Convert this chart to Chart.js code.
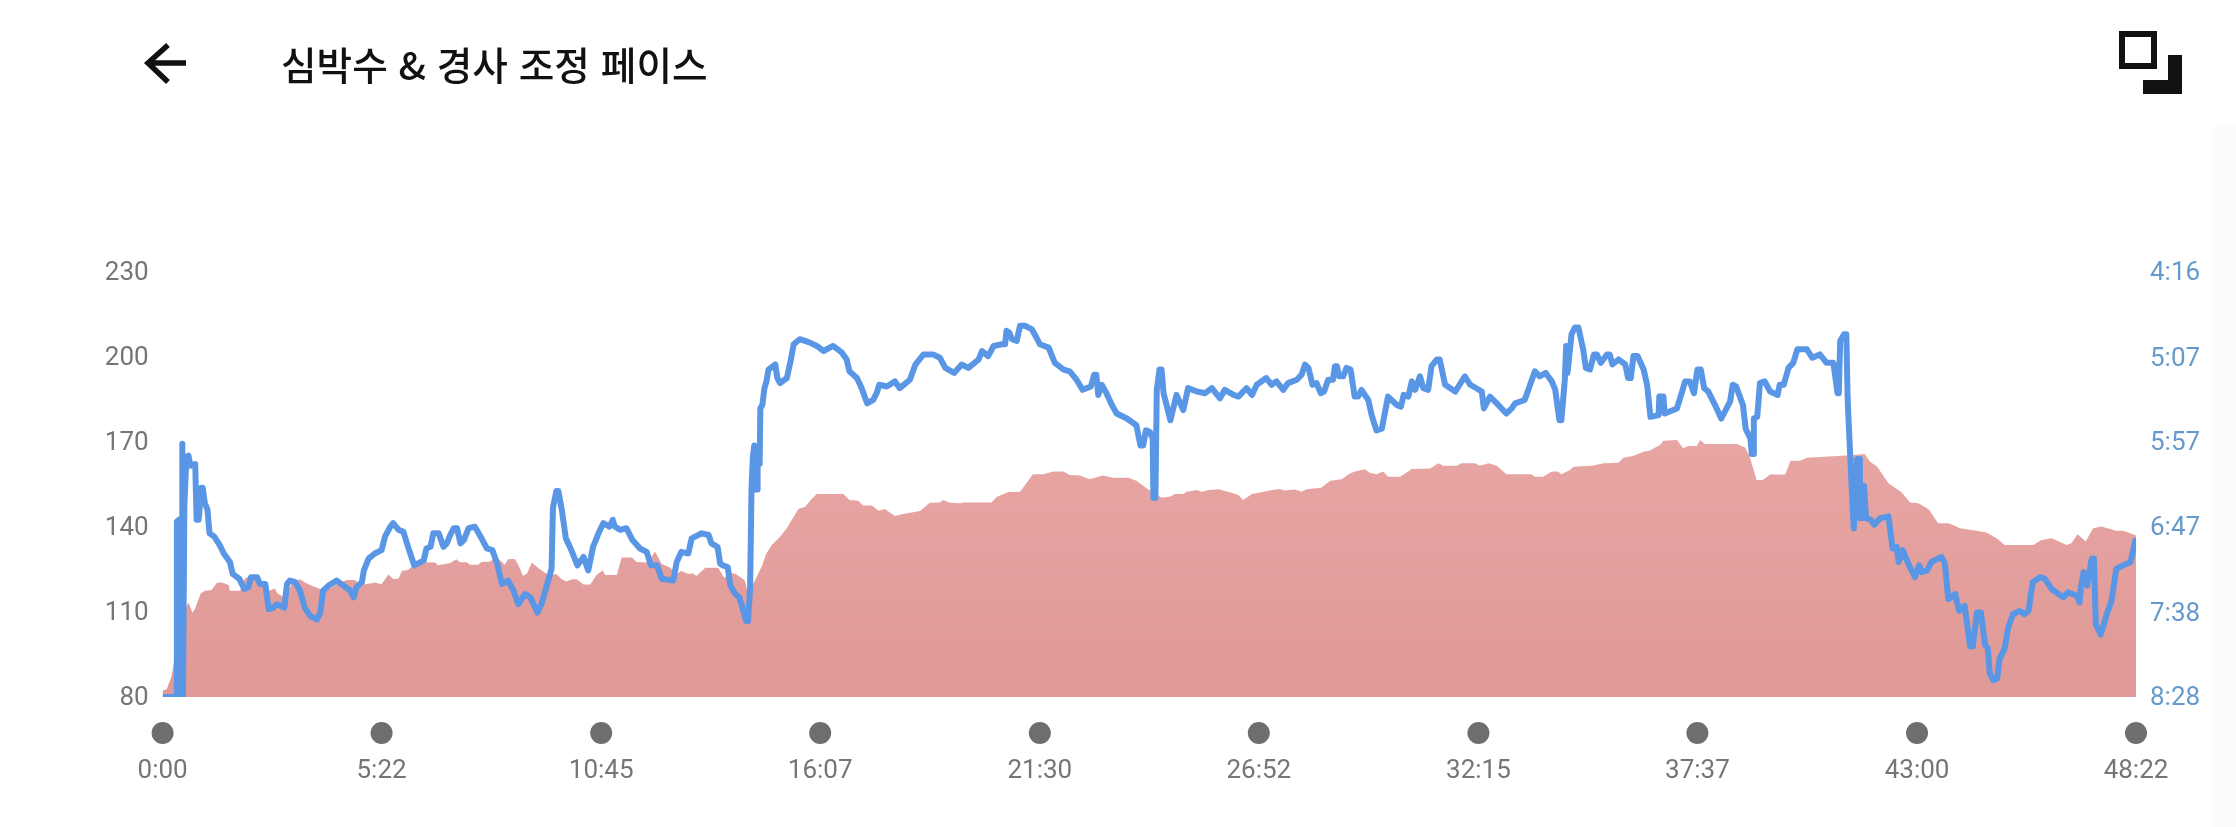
<!DOCTYPE html>
<html lang="ko">
<head>
<meta charset="utf-8">
<title>심박수 & 경사 조정 페이스</title>
<script src="https://cdn.jsdelivr.net/npm/chart.js@4"></script>
<style>
    html, body { margin: 0; padding: 0; background: #fff; width: 2236px; height: 827px; overflow: hidden; }
    #andamento { position: absolute; left: 0; top: 0; }
    #title {
        position: absolute; left: 281px; top: 36px; line-height: 54px; white-space: nowrap;
        font-family: "Noto Sans CJK KR", sans-serif; font-size: 38.7px; font-weight: 500; color: #111;
    }
    #arrow, #icon { position: absolute; left: 0; top: 0; }
    #strip { position: absolute; left: 2213px; top: 126px; width: 23px; height: 701px; background: #fcfcfc; }
</style>
</head>
<body>
<div id="strip"></div>
<canvas id="andamento" width="2236" height="827"></canvas>
<svg id="arrow" width="200" height="100">
    <path d="M186 63H148M168 45L148 63L168 82" fill="none" stroke="#111" stroke-width="5.5"/>
</svg>
<svg id="icon" width="2236" height="100">
    <path d="M2119 31h38v38h-38zM2125 37v26h26v-26z" fill="#111" fill-rule="evenodd"/>
    <path d="M2168 55h14v39h-39v-14h25z" fill="#111"/>
</svg>
<div id="title">심박수 &amp; 경사 조정 페이스</div>
<script>
// x axis, seconds
const timeTicks = [0, 322, 645, 967, 1290, 1612, 1935, 2257, 2580, 2902];
const timeLabels = ['0:00', '5:22', '10:45', '16:07', '21:30', '26:52', '32:15', '37:37', '43:00', '48:22'];

const paceTicks = [256, 307, 357, 407, 458, 508];
const paceLabels = ['4:16', '5:07', '5:57', '6:47', '7:38', '8:28'];

// pace in sec/km
const paceTimes = [
    0,17,21,21,24,25,29,29,30,32,
    35,38,41,48,50,53,57,59,62,66,
    69,76,84,90,99,103,113,120,126,130,
    139,143,151,156,163,168,179,183,187,195,
    202,209,217,227,232,236,244,256,266,276,
    281,285,293,296,303,312,322,327,335,339,
    347,354,361,370,384,388,394,398,406,413,
    418,423,428,433,438,443,450,459,469,477,
    485,492,499,508,516,523,533,541,551,557,
    565,572,574,579,582,587,593,600,610,619,
    626,633,641,648,657,662,665,673,682,691,
    702,712,718,727,734,751,756,763,773,778,
    793,803,807,816,820,824,831,835,842,848,
    852,858,861,864,866,868,870,872,875,875,
    878,879,882,885,888,891,901,904,908,918,
    924,928,937,952,962,972,986,999,1006,1010,
    1021,1028,1036,1045,1050,1054,1065,1077,1084,1099,
    1107,1119,1133,1143,1151,1164,1175,1185,1200,1205,
    1214,1222,1234,1239,1241,1245,1249,1256,1261,1268,
    1278,1285,1290,1303,1312,1325,1334,1344,1353,1365,
    1370,1373,1376,1381,1388,1396,1403,1418,1432,1438,
    1442,1446,1452,1456,1457,1460,1462,1466,1469,1472,
    1482,1491,1501,1508,1521,1533,1543,1555,1562,1575,
    1582,1594,1602,1609,1623,1631,1638,1648,1655,1668,
    1675,1680,1685,1691,1697,1703,1708,1714,1721,1724,
    1727,1730,1736,1741,1747,1753,1758,1763,1773,1778,
    1785,1793,1802,1815,1821,1825,1832,1837,1842,1849,
    1854,1861,1866,1874,1878,1886,1901,1915,1923,1940,
    1943,1952,1962,1976,1984,1989,2003,2011,2018,2025,
    2034,2043,2048,2054,2057,2062,2064,2066,2072,2077,
    2082,2089,2093,2099,2105,2109,2115,2124,2128,2132,
    2141,2151,2155,2159,2163,2169,2178,2183,2188,2200,
    2201,2207,2209,2227,2239,2246,2252,2257,2262,2267,
    2273,2283,2292,2305,2309,2314,2324,2328,2335,2337,
    2339,2340,2345,2349,2356,2364,2375,2378,2384,2391,
    2398,2404,2418,2426,2437,2447,2457,2463,2465,2467,
    2473,2476,2478,2484,2487,2492,2495,2496,2500,2502,
    2505,2512,2517,2526,2538,2544,2550,2553,2559,2567,
    2577,2583,2587,2595,2601,2616,2621,2626,2636,2642,
    2650,2658,2662,2668,2674,2680,2684,2687,2692,2698,
    2701,2709,2714,2721,2731,2738,2744,2750,2761,2768,
    2778,2795,2802,2815,2819,2821,2825,2830,2837,2840,
    2843,2850,2859,2866,2873,2883,2894,2900,2902
];
const paceValues = [
    508,508,508,404,403,508,508,358,508,395,
    366,365,371,370,403,403,384,384,393,397,
    411,413,418,423,428,435,438,444,443,437,
    437,441,441,456,455,453,455,441,439,440,
    445,455,460,462,458,445,442,439,442,445,
    449,443,440,433,426,423,421,413,407,405,
    409,410,419,430,427,420,419,411,411,419,
    417,412,408,408,417,415,408,407,414,420,
    421,429,441,439,445,453,447,449,458,453,
    442,432,396,386,386,397,414,420,430,425,
    433,419,411,405,407,403,407,409,408,415,
    420,422,430,430,438,439,428,422,423,414,
    411,412,417,419,429,430,431,442,447,449,
    454,463,463,443,385,366,359,385,385,360,
    370,337,335,325,321,314,311,319,322,319,
    308,299,296,298,300,303,300,304,308,315,
    319,325,334,332,328,323,324,321,325,320,
    311,305,305,307,313,316,311,313,308,303,
    306,300,299,299,291,292,296,297,288,288,
    290,295,299,301,310,314,315,320,326,324,
    317,317,329,323,328,335,340,343,347,359,
    359,350,351,355,390,390,326,314,314,328,
    344,329,338,325,327,328,325,331,326,329,
    330,325,329,323,319,323,321,326,322,320,
    317,311,313,323,322,328,327,320,320,312,
    312,318,318,313,314,330,330,326,332,341,
    350,349,330,335,336,329,330,321,326,318,
    325,326,312,308,308,323,327,318,323,327,
    337,330,334,340,337,334,332,323,315,318,
    316,321,326,344,344,320,300,316,293,289,
    289,302,313,314,305,305,310,305,305,311,
    308,311,319,319,306,306,314,323,342,341,
    330,330,340,337,321,321,328,314,314,325,
    327,335,343,333,323,324,335,349,355,364,
    364,343,342,322,321,327,329,323,323,313,
    310,302,302,307,305,310,310,328,328,297,
    293,293,332,385,408,367,367,402,402,383,
    402,403,406,402,401,420,419,428,421,429,
    437,430,434,433,428,425,429,450,447,457,
    454,478,478,458,458,477,479,494,498,497,
    486,479,467,459,457,459,457,440,437,438,
    444,449,446,448,452,443,434,442,426,426,
    465,471,459,451,432,430,428,417,414
];

// heart rate in bpm
const hrTimes = [
    0,6,13,17,21,28,33,38,44,48,
    56,62,72,80,87,97,99,114,121,129,
    143,153,165,169,180,190,202,212,222,236,
    246,258,271,283,290,305,312,322,332,339,
    347,352,361,369,388,401,405,423,432,437,
    447,452,464,469,481,491,503,508,518,523,
    530,536,543,553,567,579,587,594,602,609,
    619,629,638,647,651,668,675,690,697,714,
    724,734,746,756,763,773,780,785,798,817,
    826,834,844,856,861,869,881,888,896,908,
    918,928,935,945,955,962,1001,1010,1023,1030,
    1043,1053,1062,1077,1089,1114,1128,1143,1148,1158,
    1173,1178,1219,1227,1244,1261,1280,1295,1310,1325,
    1334,1349,1363,1383,1398,1420,1432,1447,1462,1469,
    1481,1489,1501,1506,1521,1528,1538,1553,1572,1582,
    1589,1602,1619,1631,1643,1650,1665,1675,1682,1704,
    1717,1734,1744,1753,1768,1775,1785,1795,1802,1820,
    1837,1864,1876,1883,1903,1910,1930,1937,1950,1962,
    1976,2013,2018,2030,2043,2052,2057,2069,2075,2102,
    2119,2141,2148,2163,2178,2187,2202,2207,2227,2236,
    2244,2256,2261,2268,2293,2315,2327,2334,2344,2353,
    2364,2386,2394,2408,2418,2476,2503,2511,2521,2538,
    2557,2570,2582,2597,2611,2626,2633,2643,2660,2682,
    2697,2709,2751,2763,2778,2800,2807,2816,2828,2839,
    2851,2873,2883,2900,2902
];
const hrValues = [
    82.2,82.7,87.1,93,102,110.7,110.7,113.3,109.7,111.3,
    116.5,117.5,117.7,120.3,120.4,119.5,117.5,117.5,121.8,122.7,
    121.3,117.1,118.3,116.5,115,120,121.5,120,119,117.7,
    118.3,120,121.3,121.3,119.5,120,120.4,119.8,123.2,121.6,
    121.8,124.5,124.8,126.5,127.5,127.4,126.5,127.3,128.6,127.5,
    127.5,126.6,126.6,127.6,127.7,129.5,126.6,128.6,128.7,126.6,
    122.7,123.6,127.4,125.4,123,123.4,121.5,120.7,121.5,121.5,
    119.7,119.7,123,124.6,123,123,129.2,129.2,127.6,127.4,
    131.3,126.9,125.7,123.6,124.4,123.4,123.6,122.7,125.6,125.6,
    122,124,123.2,121.2,116.5,120.1,126,130.7,133.6,136.5,
    139.5,143.6,146.3,147.1,150,151.6,151.6,149.5,149.2,147.5,
    147.5,145.7,146.3,143.8,144.5,145.6,148.5,148.6,149.5,148.5,
    148.3,148.6,148.6,150.6,152.3,152.4,158.6,158.6,159.5,159.5,
    158.3,158.1,156.8,158.1,157.3,157.3,156.3,153.6,151.2,150.4,
    150.6,151.6,151.6,152.4,153,152.4,153,153.3,152,151.2,
    149.5,151.6,152.4,153,153.4,152.8,153.2,152.4,153.3,153.8,
    156.3,156.8,158.6,159.5,160.3,159.1,158.6,159.5,157.7,157.7,
    160.4,160.6,162.4,161.6,161.6,162.4,162.4,161.6,162.4,161.6,
    158.6,158.6,157.7,157.7,159.5,159.5,158.6,160,161.2,161.6,
    162.4,162.6,164.4,165.1,166.5,166.9,168.9,170.4,170.6,167.7,
    168.5,168.5,170.6,169.2,169.2,169.2,168,164.8,156.5,156.5,
    158.5,158.5,163.3,163.3,164.4,165.2,165.7,163,161.3,155.4,
    152.2,148.6,148.3,146.2,141.3,141.3,140.7,139.5,138.9,138,
    136,133.6,133.6,135.4,136,133.6,134.2,137.4,134.8,139.5,
    140.1,138.6,138.6,137.2,136.9
];

const toPoints = (times, values) => times.map((t, i) => ({ x: t, y: values[i] }));

const redFill = (ctx) => {
    const area = ctx.chart.chartArea;
    if (!area) return '#e5a09d';
    const g = ctx.chart.ctx.createLinearGradient(0, area.top, 0, area.bottom);
    g.addColorStop(0, '#edaeab');
    g.addColorStop(1, '#df9997');
    return g;
};

// grey dots above the time labels
const tickDots = {
    id: 'tickDots',
    afterDraw(chart) {
        const { ctx, scales, chartArea } = chart;
        ctx.save();
        ctx.fillStyle = '#6e6e6e';
        timeTicks.forEach(t => {
            ctx.beginPath();
            ctx.arc(scales.x.getPixelForValue(t), chartArea.bottom + 36, 11, 0, Math.PI * 2);
            ctx.fill();
        });
        ctx.restore();
    }
};

const tickFont = { family: 'Roboto', size: 26 };

const config = {
    type: 'line',
    data: {
        datasets: [{
            label: '경사 조정 페이스',
            data: toPoints(paceTimes, paceValues),
            yAxisID: 'y1',
            borderColor: '#5a96e6',
            borderWidth: 6,
            borderJoinStyle: 'round',
            pointRadius: 0,
            fill: false,
            clip: 0,
            order: 1
        }, {
            label: '심박수',
            data: toPoints(hrTimes, hrValues),
            yAxisID: 'y',
            borderWidth: 0,
            backgroundColor: redFill,
            pointRadius: 0,
            fill: 'start',
            order: 2
        }]
    },
    options: {
        responsive: false,
        animation: false,
        layout: { padding: { top: 271.7 } },
        plugins: { legend: { display: false }, tooltip: { enabled: false } },
        scales: {
            x: {
                type: 'linear',
                min: 0,
                max: 2902,
                grid: { display: false },
                border: { display: false },
                afterBuildTicks: (axis) => { axis.ticks = timeTicks.map(v => ({ value: v })); },
                afterFit: (axis) => { axis.height = 130; },
                ticks: {
                    autoSkip: false,
                    maxRotation: 0,
                    padding: 51,
                    color: '#757575',
                    font: tickFont,
                    callback: (v) => timeLabels[timeTicks.indexOf(v)]
                }
            },
            y: {
                position: 'left',
                min: 80,
                max: 230,
                grid: { display: false },
                border: { display: false },
                afterFit: (axis) => { axis.width = 162.6; },
                ticks: { stepSize: 30, padding: 6, labelOffset: 1.5, color: '#757575', font: tickFont }
            },
            y1: {
                position: 'right',
                reverse: true,
                min: 256,
                max: 508,
                grid: { display: false },
                border: { display: false },
                afterBuildTicks: (axis) => { axis.ticks = paceTicks.map(v => ({ value: v })); },
                afterFit: (axis) => { axis.width = 100; },
                ticks: {
                    padding: 6,
                    labelOffset: 1.5,
                    color: '#6699cc',
                    font: tickFont,
                    callback: (v) => paceLabels[paceTicks.indexOf(v)]
                }
            }
        }
    },
    plugins: [tickDots]
};

var chart = new Chart(document.getElementById('andamento'), config);
</script>
</body>
</html>
